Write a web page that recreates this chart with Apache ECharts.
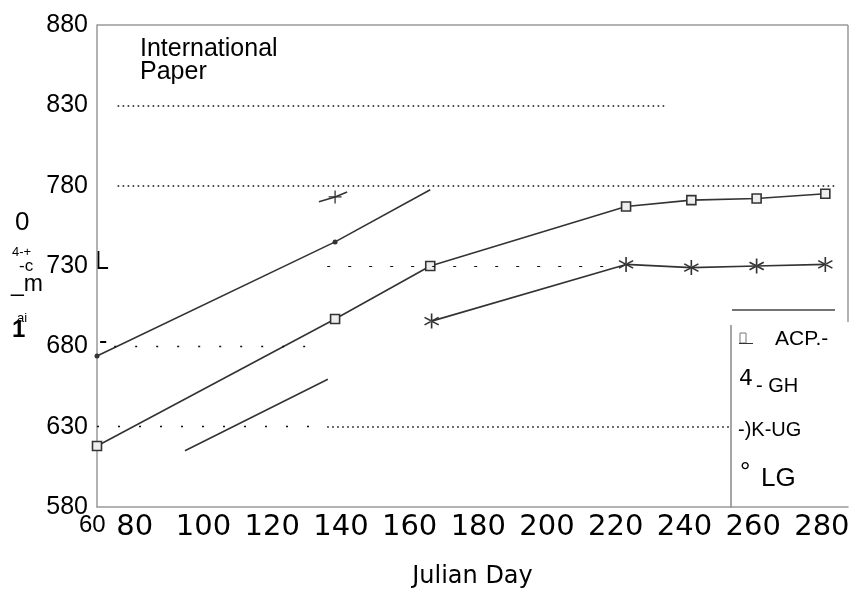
<!DOCTYPE html>
<html>
<head>
<meta charset="utf-8">
<script src="https://cdn.jsdelivr.net/npm/echarts@6/dist/echarts.min.js"></script>
<style>html,body{margin:0;padding:0;background:#fff}#c{width:867px;height:594px}</style>
</head>
<body>
<div id="c"></div>
<script>
// ---- data ----
const xTicks = [80, 100, 120, 140, 160, 180, 200, 220, 240, 260, 280];
const yTicks = [580, 630, 680, 730, 780, 830, 880];
const refLevels = [830, 780, 730, 680, 630];
const acpDays = [69, 138.3, 166, 223, 242, 261, 281];
const acpVals = [618, 697, 730, 767, 771, 772, 775];
const ghDays = [133.6, 138.3, 141.8];
const ghVals = [770, 773, 776];
const ugDays = [94.6, 136.2, 151, 166.4, 223, 242, 261, 281];
const ugVals = [615, 659.5, '-', 695.7, 731, 729, 730, 731];
const lgDays = [69, 138.3, 166];
const lgVals = [674, 745, 777.5];
const title = ['International', 'Paper'];
const xName = 'Julian Day';
const legendNames = ['ACP', 'GH', 'UG', 'LG'];

const chart = echarts.init(document.getElementById('c'), null, {renderer: 'canvas'});
const ink = '#333';
const asterisk = 'path://M9,0L11,0L11,20L9,20Z M1.84,4.13L19.16,14.13L18.16,15.87L0.84,5.87Z M1.84,15.87L19.16,5.87L18.16,4.13L0.84,14.13Z';
const plus = 'path://M9,0L11,0L11,9L20,9L20,11L11,11L11,20L9,20L9,11L0,11L0,9L9,9Z';
const pairs = (xs, ys) => xs.map((x, i) => [x, ys[i]]);

function seg(y, x0, x1, dash, w) {
  return [{coord: [x0, y], lineStyle: {type: dash, width: w || 1.6, color: '#111'}}, {coord: [x1, y]}];
}

const option = {
  animation: false,
  grid: {left: 97, right: 19, top: 25, bottom: 86, show: false},
  xAxis: {
    type: 'value', min: 69, max: 287.6,
    axisLine: {show: true, lineStyle: {color: '#999', width: 1.5}},
    axisTick: {show: false},
    splitLine: {show: false},
    axisLabel: {customValues: xTicks, showMinLabel: true, showMaxLabel: true, color: '#000', fontFamily: 'DejaVu Sans', fontSize: 29, margin: 6},
    name: xName, nameLocation: 'middle', nameGap: 58,
    nameTextStyle: {fontFamily: 'DejaVu Sans', fontSize: 24, color: '#000'}
  },
  yAxis: {
    type: 'value', min: 580, max: 880, interval: 50,
    axisLine: {show: true, lineStyle: {color: '#999', width: 1.5}},
    axisTick: {show: false},
    splitLine: {show: false},
    axisLabel: {color: '#000', fontFamily: 'Liberation Sans', fontSize: 25, margin: 9,
      formatter: v => yTicks.includes(v) ? String(v) : ''}
  },
  series: [
    {
      name: 'ref', type: 'line', data: [], silent: true,
      markLine: {
        silent: true, symbol: ['none', 'none'], label: {show: false},
        data: [
          seg(refLevels[0], 75, 235, [1.6, 3.4]),
          seg(refLevels[1], 75, 284, [1.6, 3.4]),
          seg(refLevels[2], 136, 221, [3, 18], 1.2),
          seg(refLevels[3], 74, 134, [2, 19], 1.4),
          seg(refLevels[4], 69, 134, [2, 19], 1.4),
          seg(refLevels[4], 136, 253, [1.6, 3.4])
        ]
      }
    },
    {
      name: legendNames[0], type: 'line', data: pairs(acpDays, acpVals),
      symbol: 'rect', symbolSize: 9,
      itemStyle: {color: '#eee', borderColor: ink, borderWidth: 1.6},
      lineStyle: {color: ink, width: 1.6}
    },
    {
      name: legendNames[1], type: 'line',
      data: pairs(ghDays, ghVals).map((p, i) => i === 1 ? {value: p} : {value: p, symbol: 'none'}),
      symbol: plus, symbolSize: 13, itemStyle: {color: ink},
      lineStyle: {color: ink, width: 1.6}
    },
    {
      name: legendNames[2], type: 'line', connectNulls: false,
      data: pairs(ugDays, ugVals).map((p, i) => i < 2 ? {value: p, symbol: 'none'} : {value: p}),
      symbol: asterisk, symbolSize: 15, itemStyle: {color: ink},
      lineStyle: {color: ink, width: 1.6}
    },
    {
      name: legendNames[3], type: 'line',
      data: pairs(lgDays, lgVals).map((p, i) => i === 2 ? {value: p, symbol: 'none'} : {value: p}),
      symbol: 'circle', symbolSize: 5, itemStyle: {color: ink},
      lineStyle: {color: ink, width: 1.6}
    }
  ],
  graphic: [
    // plot frame pieces (top and right edges)
    {type: 'line', shape: {x1: 97, y1: 25, x2: 848, y2: 25}, style: {stroke: '#999', lineWidth: 1.5}},
    {type: 'line', shape: {x1: 848, y1: 25, x2: 848, y2: 322}, style: {stroke: '#999', lineWidth: 1.5}},
    {type: 'text', left: 140, top: 37, style: {text: title.join('\n'), font: '25px "Liberation Sans"', lineHeight: 23, fill: '#000'}},
    {type: 'text', left: 79, top: 513, style: {text: '60', font: '24px "Liberation Sans"', fill: '#000'}},
    {type: 'text', left: 95, top: 250, style: {text: 'L', font: '25px "Liberation Sans"', fill: '#000'}},
    {type: 'text', left: 99, top: 330, style: {text: '-', font: '25px "Liberation Sans"', fill: '#000'}},
    // garbled axis title marks
    {type: 'text', left: 15, top: 210, style: {text: '0', font: '26px "Liberation Sans"', fill: '#000'}},
    {type: 'text', left: 12, top: 246, style: {text: '4-+', font: '13px "Liberation Sans"', fill: '#000'}},
    {type: 'text', left: 19, top: 258, style: {text: '-c', font: '17px "Liberation Sans"', fill: '#000'}},
    {type: 'text', left: 11, top: 273, style: {text: '_m', font: '23px "Liberation Sans"', fill: '#000'}},
    {type: 'text', left: 17, top: 312, style: {text: 'ai', font: '13px "Liberation Sans"', fill: '#000'}},
    {type: 'text', left: 12, top: 318, style: {text: '1', font: 'bold 24px "Liberation Sans"', fill: '#000'}},
    // legend box
    {type: 'line', shape: {x1: 731, y1: 325, x2: 731, y2: 508}, style: {stroke: '#888', lineWidth: 1.5}},
    {type: 'line', shape: {x1: 732, y1: 310, x2: 835, y2: 310}, style: {stroke: '#444', lineWidth: 1.5}},
    {type: 'rect', shape: {x: 740, y: 333, width: 6, height: 10}, style: {fill: 'none', stroke: '#777', lineWidth: 1}},
    {type: 'text', left: 739, top: 336, style: {text: '—', font: '14px "Liberation Sans"', fill: '#333'}},
    {type: 'text', left: 775, top: 329, style: {text: 'ACP.-', font: '21px "Liberation Sans"', fill: '#000'}},
    {type: 'text', left: 739, top: 368, style: {text: '4', font: '22px "DejaVu Sans"', fill: '#000'}},
    {type: 'text', left: 756, top: 376, style: {text: '- GH', font: '20px "Liberation Sans"', fill: '#000'}},
    {type: 'text', left: 738, top: 420, style: {text: '-)K-UG', font: '20px "Liberation Sans"', fill: '#000'}},
    {type: 'text', left: 740, top: 460, style: {text: '°', font: '26px "Liberation Sans"', fill: '#000'}},
    {type: 'text', left: 761, top: 466, style: {text: 'LG', font: '26px "Liberation Sans"', fill: '#000'}}
  ]
};
chart.setOption(option);
</script>
</body>
</html>
